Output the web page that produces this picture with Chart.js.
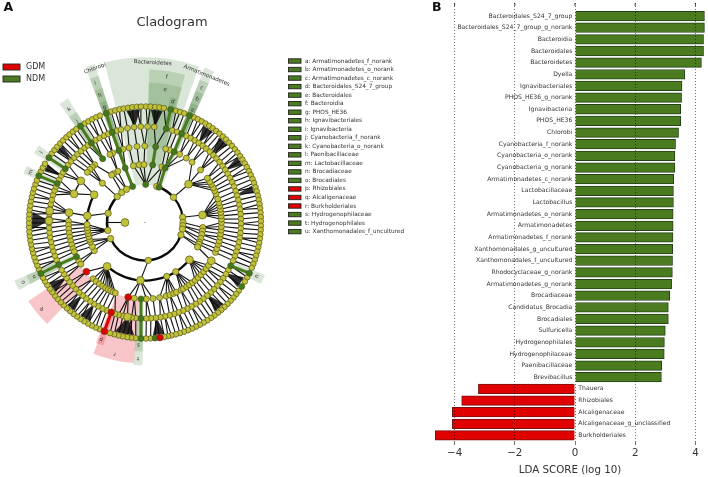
<!DOCTYPE html>
<html>
<head>
<meta charset="utf-8">
<script src="https://cdn.jsdelivr.net/npm/chart.js@4"></script>
<style>
  html, body { margin: 0; padding: 0; background: #fff; }
  canvas { position: absolute; top: 0; }
  #cladogram { left: 0; }
  #ldaBars { left: 420px; }
</style>
</head>
<body>
<canvas id="cladogram" width="430" height="477"></canvas>
<canvas id="ldaBars" width="288" height="477"></canvas>
<script>
// LDA bars, top to bottom
const taxa = ['Bacteroidales_S24_7_group', 'Bacteroidales_S24_7_group_g_norank', 'Bacteroidia', 'Bacteroidales',
    'Bacteroidetes', 'Dyella', 'Ignavibacteriales', 'PHOS_HE36_g_norank', 'Ignavibacteria', 'PHOS_HE36', 'Chlorobi',
    'Cyanobacteria_f_norank', 'Cyanobacteria_o_norank', 'Cyanobacteria_g_norank', 'Armatimonadetes_c_norank',
    'Lactobacillaceae', 'Lactobacillus', 'Armatimonadetes_o_norank', 'Armatimonadetes', 'Armatimonadetes_f_norank',
    'Xanthomonadales_g_uncultured', 'Xanthomonadales_f_uncultured', 'Rhodocyclaceae_g_norank',
    'Armatimonadetes_g_norank', 'Brocadiaceae', 'Candidatus_Brocadia', 'Brocadiales', 'Sulfuricella',
    'Hydrogenophilales', 'Hydrogenophilaceae', 'Paenibacillaceae', 'Brevibacillus', 'Thauera', 'Rhizobiales',
    'Alcaligenaceae', 'Alcaligenaceae_g_unclassified', 'Burkholderiales'];
const ldaScores = [4.30, 4.30, 4.27, 4.27, 4.20, 3.65, 3.555, 3.54, 3.51, 3.51, 3.44, 3.34, 3.32, 3.32, 3.28, 3.27,
    3.27, 3.26, 3.26, 3.255, 3.245, 3.24, 3.235, 3.21, 3.145, 3.10, 3.10, 3.00, 2.97, 2.965, 2.88, 2.87,
    -3.21, -3.765, -4.075, -4.075, -4.64];
const xTicks = [-4, -2, 0, 2, 4];

// cladogram legend
const groupNames = ['GDM', 'NDM'];
const cladeKeys = ['a: Armatimonadetes_f_norank', 'b: Armatimonadetes_o_norank', 'c: Armatimonadetes_c_norank',
    'd: Bacteroidales_S24_7_group', 'e: Bacteroidales', 'f: Bacteroidia', 'g: PHOS_HE36', 'h: Ignavibacteriales',
    'i: Ignavibacteria', 'j: Cyanobacteria_f_norank', 'k: Cyanobacteria_o_norank', 'l: Paenibacillaceae',
    'm: Lactobacillaceae', 'n: Brocadiaceae', 'o: Brocadiales', 'p: Rhizobiales', 'q: Alcaligenaceae',
    'r: Burkholderiales', 's: Hydrogenophilaceae', 't: Hydrogenophilales', 'u: Xanthomonadales_f_uncultured'];
const cladeGroups = ['NDM', 'NDM', 'NDM', 'NDM', 'NDM', 'NDM', 'NDM', 'NDM', 'NDM', 'NDM', 'NDM', 'NDM', 'NDM', 'NDM',
    'NDM', 'GDM', 'GDM', 'GDM', 'NDM', 'NDM', 'NDM'];

// cladogram nodes per taxonomic level, degrees clockwise from 12 o'clock
const level1Angles = [18, 48.5, 82, 90, 95, 100, 109, 175, 245, 258, 284, 313, 322.5, 331];
const level2Angles = [348.5, 354.3, 359, 17, 332, 327, 325, 312.7, 298.6, 276.6, 48.7, 82.6, 95, 98.5, 102, 106, 110, 112, 115, 130,
    148, 158, 184.5, 220.8, 241, 245.5, 250.5, 253, 256, 259, 262, 265, 268];
const level2Parents = [1, 1, 1, 18, 331, 331, 322.5, 313, null, 284, 48.5, 82, 90, 95, 95, 100, 100, 109, 109, null, null, null,
    175, null, 245, 245, 245, 245, 258, 258, 258, 258, 258];
const level3Angles = [359.8, 354, 348, 343.4, 335, 332.7, 319, 316.5, 314, 311, 303, 292, 277.4, 271, 268, 265, 262, 259, 256,
    253, 250, 247.5, 240, 237, 222.7, 219.6, 216.6, 213.6, 211, 208.8, 206.7, 204.7, 202.8, 188, 179, 174, 169, 164, 161,
    158, 155.8, 152, 150, 147, 144.5, 141.7, 139, 136, 133, 130, 127, 124, 120, 113, 110, 106.7, 104, 101, 98.5, 95.7, 93, 90,
    87.5, 85, 82.5, 80, 77.5, 75, 72, 68, 65.5, 63, 60, 57.8, 54.6, 46.6, 38, 32.7, 27, 18.8, 15.7];
const level4Angles = [1.5, 5.5, 16.5, 19.5, 25.5, 28.4, 31.2, 34, 36.9, 39.7, 42.5, 45.4, 48.2, 51, 53.9, 56.7, 59.5, 62.4, 65.2,
    68, 70.9, 73.7, 76.5, 79.4, 82.2, 85, 87.9, 90.7, 93.5, 96.4, 99.2, 102, 104.9, 107.7, 110.5, 113.4, 119.8, 122.6, 125.5,
    128.3, 131.1, 134, 136.8, 139.6, 142.5, 145.3, 148.1, 151, 153.8, 156.6, 159.5, 162.3, 165.1, 168, 170.8, 173.6, 176.5,
    179.2, 185.5, 188, 190.5, 193.3, 196, 198.2, 203.5, 206.3, 209.2, 212, 214.8, 217.7, 220.5, 223.3, 226.2, 229, 231.8,
    234.7, 237.5, 240.3, 247, 249.8, 252.7, 255.5, 258.3, 261.2, 264, 266.8, 269.7, 272.5, 275.3, 278.2, 281, 283.8, 286.7,
    289.5, 292, 296.5, 299.3, 301.5, 306.8, 309.6, 312.5, 315.3, 318.1, 321, 323.5, 329, 331.8, 334.7, 337.5, 343, 345.5,
    349.5, 353.5, 357.5];
const level5Angles = [0.5, 2.7, 5, 7.2, 9.4, 15.5, 17.6, 19.8, 25, 27.1, 29.3, 31.4, 33.6, 35.7, 37.9, 40, 42.2, 44.3, 46.5, 48.6,
    50.8, 52.9, 55.1, 57.2, 59.4, 61.5, 63.7, 65.8, 68, 70.1, 72.3, 74.4, 76.6, 78.7, 80.9, 83, 85.1, 87.3, 89.4, 91.6, 93.7,
    95.9, 98, 100.2, 102.3, 104.5, 106.6, 108.8, 110.9, 113, 118.2, 120.6, 126, 128.1, 130.3, 132.4, 134.6, 136.7, 138.9, 141,
    143.2, 145.3, 147.5, 149.6, 151.8, 153.9, 156.1, 158.2, 160.4, 162.5, 164.6, 166.8, 168.6, 170.4, 177.2, 179.5, 184.6,
    186.8, 188.9, 191.1, 193.2, 195.4, 197.5, 203, 205.1, 207.3, 209.4, 211.6, 213.7, 215.9, 218, 220.2, 222.3, 224.5, 226.6,
    228.8, 230.9, 233.1, 235.2, 237.4, 239.5, 241.6, 246.2, 248.3, 250.5, 252.6, 254.8, 256.9, 259.1, 261.2, 263.4, 265.5,
    267.7, 269.8, 272, 274.1, 276.3, 278.4, 280.6, 282.7, 284.9, 287, 289.2, 291.3, 296, 298.2, 300.4, 306.5, 308.7, 310.8,
    313, 315.1, 317.3, 319.4, 321.6, 323.7, 328.6, 330.8, 332.9, 335.1, 337.2, 343, 345.1, 347.3, 349.4, 351.6, 353.7, 355.9, 358];
const largeNodes = [[0, 270], [2, 48.7], [2, 82.6], [2, 130], [2, 184.5], [2, 220.8], [2, 276.6], [2, 298.6],
    [3, 120], [3, 277.4], [3, 292], [3, 303], [4, 190.5], [4, 277], [4, 271]];

// significant nodes as [level, angle]
const ndmNodes = [[1, 1], [1, 21.8], [1, 341], [2, 7.6], [2, 20.3], [2, 340], [3, 8], [3, 22.4], [3, 340], [3, 326.4],
    [3, 243.5], [3, 183], [4, 12.7], [4, 22.4], [4, 340], [4, 326], [4, 304], [4, 294], [4, 244], [4, 116.8], [4, 182.4],
    [5, 12.8], [5, 22.6], [5, 340.5], [5, 326.2], [5, 304], [5, 293.7], [5, 243.9], [5, 182], [5, 175], [5, 115.9], [5, 123.5]];
const gdmNodes = [[3, 230], [3, 192.7], [4, 200.6], [5, 200.5], [5, 172.6]];
const ndmPaths = [
    [[1, 341], [2, 340], [3, 340], [4, 340], [5, 340.5]],
    [[1, 21.8], [2, 20.3], [3, 22.4], [4, 22.4], [5, 22.6]],
    [[3, 326.4], [4, 326], [5, 326.2]],
    [[4, 304], [5, 304]],
    [[4, 294], [5, 293.7]],
    [[3, 243.5], [4, 244], [5, 243.9]],
    [[4, 116.8], [5, 115.9]],
    [[3, 183], [4, 182.4], [5, 182]],
    [[2, 7.6], [3, 8]],
    [[4, 12.7], [5, 12.8]]
];
const gdmPaths = [[[4, 200.6], [5, 200.5]]];
const thinPaths = [[[1, 1], [2, 7.6]], [[3, 8], [4, 12.7]], [[1, 1], [2, 17]], [[0, 270], [1, 270]]];

// ---- geometry of the tree drawing
const levelRadius = [20, 38, 58, 76.5, 96, 116];
const toPoint = (level, angle) => {
    const t = angle * Math.PI / 180;
    return { x: levelRadius[level] * Math.sin(t), y: levelRadius[level] * Math.cos(t) };
};
const toPoints = (level, angles) => angles.map(a => toPoint(level, a));
const pairPoints = (pairs) => pairs.map(p => toPoint(p[0], p[1]));
const circDist = (a, b) => { const d = Math.abs(a - b) % 360; return d > 180 ? 360 - d : d; };
const nearest = (angle, list) => list.reduce((best, a) => circDist(a, angle) < circDist(best, angle) ? a : best, list[0]);

// each branch is a two point line, child hangs on the closest node of the level below
const branchSegments = () => {
    const segs = [];
    const add = (l1, a1, l2, a2) => segs.push([toPoint(l1, a1), toPoint(l2, a2)]);
    level2Angles.forEach((a, i) => { if (level2Parents[i] !== null) add(1, level2Parents[i], 2, a); });
    const l2 = level2Angles.concat([7.6, 20.3, 340]);
    const l3 = level3Angles.concat([8, 22.4, 340, 326.4, 243.5, 183, 230, 192.7]);
    const l4 = level4Angles.concat([12.7, 22.4, 340, 326, 304, 294, 244, 116.8, 182.4, 200.6]);
    level3Angles.concat([230, 192.7]).forEach(a => add(2, nearest(a, l2), 3, a));
    level4Angles.forEach(a => add(3, nearest(a, l3), 4, a));
    level5Angles.concat([175, 172.6, 123.5]).forEach(a => add(4, nearest(a, l4), 5, a));
    thinPaths.forEach(p => add(p[0][0], p[0][1], p[1][0], p[1][1]));
    return segs;
};

// shaded clades: angles, inner and outer radius
const GREEN_SHADE = 'rgba(60,120,40,0.19)';
const RED_SHADE = 'rgba(230,40,50,0.27)';
const wedges = [
    [-14.2, 19, 38, 165, GREEN_SHADE], [1.6, 15.2, 58, 153, GREEN_SHADE], [1.6, 15.2, 76, 140, GREEN_SHADE], [11.4, 14.4, 96, 128, GREEN_SHADE],
    [-21, -17.6, 38, 166, GREEN_SHADE], [-21, -17.6, 58, 154, GREEN_SHADE], [-21, -17.6, 76, 141, GREEN_SHADE], [-21, -17.6, 96, 128, GREEN_SHADE],
    [21, 24.6, 38, 166, GREEN_SHADE], [21, 24.6, 76, 153, GREEN_SHADE], [21, 24.6, 96, 141, GREEN_SHADE], [21, 24.6, 96, 128, GREEN_SHADE],
    [-35.8, -31.8, 76, 146, GREEN_SHADE], [-35.8, -31.8, 96, 130, GREEN_SHADE],
    [-58, -54, 96, 131, GREEN_SHADE], [-68.2, -64.4, 96, 131, GREEN_SHADE],
    [241.8, 246, 76, 143, GREEN_SHADE], [241.8, 246, 96, 130, GREEN_SHADE],
    [113.8, 118, 96, 131, GREEN_SHADE],
    [181, 184.6, 76, 143, GREEN_SHADE], [181, 184.6, 96, 129, GREEN_SHADE],
    [224, 236, 78, 141, RED_SHADE], [184.5, 201.5, 77, 141, RED_SHADE], [198.8, 202.2, 96, 130, RED_SHADE]
];
const wedgeLetters = [['f', 8.5, 147], ['e', 8.6, 134.5], ['d', 13, 124], ['i', -19.6, 148], ['h', -19.5, 135], ['g', -19.4, 122],
    ['c', 22.8, 146], ['b', 22.9, 134], ['a', 22.8, 122], ['k', -33.8, 136], ['j', -33.8, 122], ['l', -56, 124.6], ['m', -66.3, 124.8],
    ['n', 243.9, 123], ['o', 243.9, 135.7], ['u', 115.6, 124], ['s', 183, 122.5], ['t', 183, 136], ['q', 230, 135], ['r', 193, 135], ['p', 200.5, 125]];
const cladeNames = [['Bacteroidetes', 152.7, 62.7, 3], ['Chlorobi', 95, 68.5, -20], ['Armatimonadetes', 206.7, 75.5, 22]];
// heavy arcs [level, from, to, width]
const arcs = [[1, 22, 48.5, 2.6], [1, 48.5, 95, 2.2], [1, 109, 245, 2.4], [1, 258, 331, 2.6], [2, 130, 220.8, 2.2],
    [2, 268, 298.6, 2.4], [3, 271, 277.4, 1.5], [3, 292, 303, 1.4]];
// dark fans between level 4 and level 5 [apex angle, half width]
const fans = [[354, 3.5], [6, 3], [34, 3], [44, 3], [57, 2.5], [73, 2], [122, 3], [139, 3], [173, 3], [190.5, 5], [212, 3],
    [221, 2.5], [235, 3], [271, 4.5], [299, 2], [311, 2]];

const cladogramDecor = {
    id: 'cladogramDecor',
    beforeDatasetsDraw(chart) {
        const { ctx, scales } = chart;
        const cx = scales.x.getPixelForValue(0), cy = scales.y.getPixelForValue(0);
        const rad = d => (d - 90) * Math.PI / 180;
        const strokeLine = (pts, color, width) => {
            ctx.beginPath();
            ctx.strokeStyle = color;
            ctx.lineWidth = width;
            pts.forEach((p, i) => {
                const x = scales.x.getPixelForValue(p.x), y = scales.y.getPixelForValue(p.y);
                if (i === 0) ctx.moveTo(x, y); else ctx.lineTo(x, y);
            });
            ctx.stroke();
        };
        ctx.save();
        wedges.forEach(w => {
            ctx.beginPath();
            ctx.arc(cx, cy, w[3], rad(w[0]), rad(w[1]));
            ctx.arc(cx, cy, w[2], rad(w[1]), rad(w[0]), true);
            ctx.closePath();
            ctx.fillStyle = w[4];
            ctx.fill();
        });
        branchSegments().forEach(s => strokeLine(s, '#111', 1.1));
        ctx.strokeStyle = '#0a0a0a';
        arcs.forEach(a => {
            ctx.beginPath();
            ctx.lineWidth = a[3];
            ctx.arc(cx, cy, levelRadius[a[0]], rad(a[1]), rad(a[2]));
            ctx.stroke();
        });
        ctx.fillStyle = 'rgba(10,10,10,0.85)';
        fans.forEach(f => {
            const ap = toPoint(4, f[0]);
            ctx.beginPath();
            ctx.moveTo(cx + ap.x, cy - ap.y);
            ctx.arc(cx, cy, 113, rad(f[0] - f[1]), rad(f[0] + f[1]));
            ctx.closePath();
            ctx.fill();
        });
        ndmPaths.forEach(p => strokeLine(pairPoints(p), '#4a7c1f', 3));
        gdmPaths.forEach(p => strokeLine(pairPoints(p), '#d80000', 3));
        ctx.restore();
    },
    afterDatasetsDraw(chart) {
        const { ctx, scales } = chart;
        const cx = scales.x.getPixelForValue(0), cy = scales.y.getPixelForValue(0);
        ctx.save();
        ctx.textBaseline = 'middle';
        ctx.textAlign = 'center';
        ctx.fillStyle = '#333';
        ctx.font = '5.5px "DejaVu Sans"';
        wedgeLetters.forEach(l => {
            const t = l[1] * Math.PI / 180;
            ctx.save();
            ctx.translate(cx + l[2] * Math.sin(t), cy - l[2] * Math.cos(t));
            ctx.rotate(t);
            ctx.fillText(l[0], 0, 0);
            ctx.restore();
        });
        cladeNames.forEach(n => {
            ctx.save();
            ctx.translate(n[1], n[2]);
            ctx.rotate(n[3] * Math.PI / 180);
            ctx.fillText(n[0], 0, 0);
            ctx.restore();
        });

        // title and panel letter
        ctx.fillStyle = '#333';
        ctx.font = '13px "DejaVu Sans"';
        ctx.fillText('Cladogram', 172, 23);
        ctx.fillStyle = '#111';
        ctx.textAlign = 'left';
        ctx.font = 'bold 12.5px "DejaVu Sans"';
        ctx.fillText('A', 3.5, 8);

        // group legend
        const swatch = (x, y, w, h, group) => {
            ctx.fillStyle = group === 'GDM' ? '#e00000' : '#4a7c1f';
            ctx.strokeStyle = '#222';
            ctx.lineWidth = 0.9;
            ctx.fillRect(x, y, w, h);
            ctx.strokeRect(x, y, w, h);
        };
        ctx.font = '8px "DejaVu Sans"';
        groupNames.forEach((g, i) => {
            const y = 67 + i * 12;
            swatch(3, y - 3, 17, 6, g);
            ctx.fillStyle = '#333';
            ctx.fillText(g, 26, y);
        });

        // clade key
        ctx.font = '5.8px "DejaVu Sans"';
        cladeKeys.forEach((k, i) => {
            const y = 61 + i * 8.53;
            swatch(288.5, y - 2.2, 12.5, 4.4, cladeGroups[i]);
            ctx.fillStyle = '#333';
            ctx.fillText(k, 305, y);
        });
        ctx.restore();
    }
};

const nodeSet = (pts, radius, fill) => ({ data: pts, pointRadius: radius, pointBackgroundColor: fill, pointBorderColor: '#55551c', pointBorderWidth: 0.7 });
// lower index is painted last
new Chart(document.getElementById('cladogram').getContext('2d'), {
    type: 'scatter',
    data: {
        datasets: [
            nodeSet(pairPoints(gdmNodes), 3.4, '#e00000'),
            nodeSet(pairPoints(ndmNodes), 3, '#3f7a1e'),
            nodeSet(pairPoints(largeNodes), 3.9, '#c2c238'),
            { data: [{ x: 0, y: 0 }], pointRadius: 0.6, pointBackgroundColor: '#666', pointBorderWidth: 0 },
            nodeSet(toPoints(1, level1Angles), 3.2, '#c2c238'),
            nodeSet(toPoints(2, level2Angles), 3.1, '#c2c238'),
            nodeSet(toPoints(3, level3Angles), 3, '#c2c238'),
            nodeSet(toPoints(4, level4Angles), 2.9, '#c2c238'),
            nodeSet(toPoints(5, level5Angles), 2.8, '#c2c238')
        ]
    },
    options: {
        responsive: false,
        animation: false,
        layout: { padding: 0, autoPadding: false },
        // one data unit is one pixel, centre of the tree at the origin
        scales: {
            x: { type: 'linear', display: false, min: -145, max: 285 },
            y: { type: 'linear', display: false, min: -254.5, max: 222.5 }
        },
        plugins: { legend: { display: false }, tooltip: { enabled: false } }
    },
    plugins: [cladogramDecor]
});

// ---- LDA bars
const barDecor = {
    id: 'barDecor',
    afterDatasetsDraw(chart) {
        const { ctx, scales } = chart;
        const x0 = scales.x.getPixelForValue(0);
        ctx.save();
        ctx.font = '6.1px "DejaVu Sans"';
        ctx.fillStyle = '#333';
        ctx.textBaseline = 'middle';
        taxa.forEach((name, i) => {
            const y = scales.y.getPixelForValue(i);
            ctx.textAlign = ldaScores[i] >= 0 ? 'right' : 'left';
            ctx.fillText(name, x0 + (ldaScores[i] >= 0 ? -2.7 : 3.3), y);
        });
        // tick marks on the top edge
        ctx.strokeStyle = '#444';
        ctx.lineWidth = 1;
        xTicks.forEach(t => {
            const x = scales.x.getPixelForValue(t);
            ctx.beginPath();
            ctx.moveTo(x, chart.chartArea.top);
            ctx.lineTo(x, chart.chartArea.top + 3);
            ctx.stroke();
        });
        ctx.fillStyle = '#111';
        ctx.textAlign = 'left';
        ctx.font = 'bold 12.5px "DejaVu Sans"';
        ctx.fillText('B', 12, 8);
        ctx.restore();
    }
};

new Chart(document.getElementById('ldaBars').getContext('2d'), {
    type: 'bar',
    data: {
        datasets: [{
            data: ldaScores.map((v, i) => ({ x: v, y: i })),
            backgroundColor: ldaScores.map(v => v >= 0 ? '#4a7c1f' : '#e00000'),
            borderColor: ldaScores.map(v => v >= 0 ? '#26401a' : '#7c1010'),
            borderWidth: 1,
            barThickness: 9.6
        }]
    },
    options: {
        indexAxis: 'y',
        responsive: false,
        animation: false,
        layout: { padding: { left: 13, right: 1, top: 3, bottom: 0 } },
        scales: {
            x: {
                type: 'linear',
                min: -4.718,
                max: 4.385,
                afterFit: s => { s.height = 35; },
                border: { display: false, dash: [1, 2] },
                grid: { color: 'rgba(0,0,0,0.55)', z: 1, tickLength: 3 },
                ticks: {
                    stepSize: 2,
                    includeBounds: false,
                    maxRotation: 0,
                    padding: 2,
                    color: '#333',
                    font: { family: '"DejaVu Sans"', size: 10.3 },
                    callback: v => String(v).replace('-', '\u2212')
                },
                title: {
                    display: true,
                    text: 'LDA SCORE (log 10)',
                    color: '#333',
                    padding: { top: 1, bottom: 0 },
                    font: { family: '"DejaVu Sans"', size: 10.3 }
                }
            },
            y: { type: 'linear', display: false, reverse: true, offset: false, min: -1.12, max: 36.56 }
        },
        plugins: { legend: { display: false }, tooltip: { enabled: false } }
    },
    plugins: [barDecor]
});
</script>
</body>
</html>
